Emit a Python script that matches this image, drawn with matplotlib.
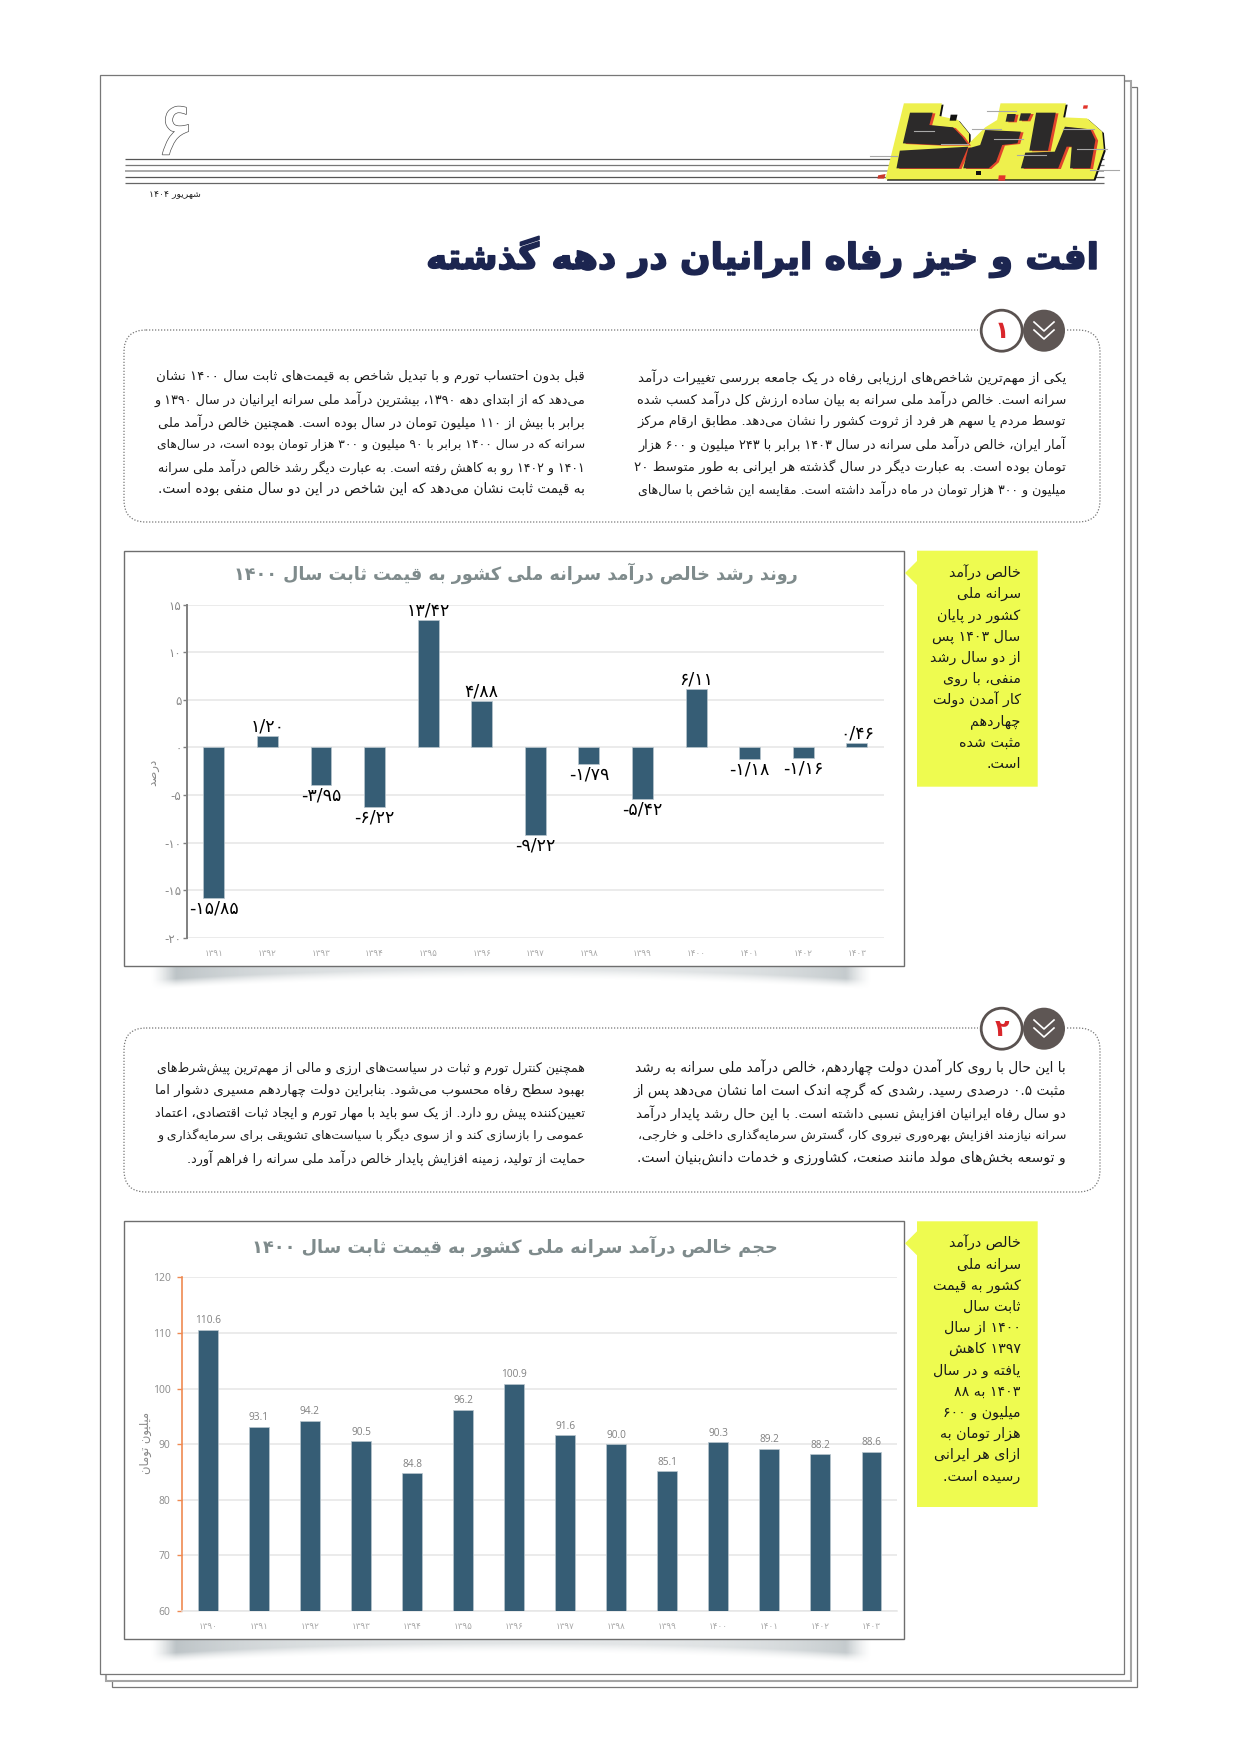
import re
import numpy as np
import matplotlib
matplotlib.use("Agg")
import matplotlib.pyplot as plt
from matplotlib.patches import Rectangle, Polygon, Circle, FancyBboxPatch
import matplotlib.patheffects as pe

W, H = 1250, 1750

years1 = ["1391", "1392", "1393", "1394", "1395", "1396", "1397", "1398", "1399", "1400", "1401", "1402", "1403"]
growth = [-15.85, 1.20, -3.95, -6.22, 13.42, 4.88, -9.22, -1.79, -5.42, 6.11, -1.18, -1.16, 0.46]
growth_ticks = [15, 10, 5, 0, -5, -10, -15, -20]

years2 = ["1390"] + years1
income = [110.6, 93.1, 94.2, 90.5, 84.8, 96.2, 100.9, 91.6, 90.0, 85.1, 90.3, 89.2, 88.2, 88.6]
income_ticks = [60, 70, 80, 90, 100, 110, 120]

headline = "افت و خیز رفاه ایرانیان در دهه گذشته"
date_text = "شهریور ۱۴۰۴"
title1 = "روند رشد خالص درآمد سرانه ملی کشور به قیمت ثابت سال ۱۴۰۰"
title2 = "حجم خالص درآمد سرانه ملی کشور به قیمت ثابت سال ۱۴۰۰"

box1_right = [
    "یکی از مهم‌ترین شاخص‌های ارزیابی رفاه در یک جامعه بررسی تغییرات درآمد",
    "سرانه است. خالص درآمد ملی سرانه به بیان ساده ارزش کل درآمد کسب شده",
    "توسط مردم یا سهم هر فرد از ثروت کشور را نشان می‌دهد. مطابق ارقام مرکز",
    "آمار ایران، خالص درآمد ملی سرانه در سال ۱۴۰۳ برابر با ۲۴۳ میلیون و ۶۰۰ هزار",
    "تومان بوده است. به عبارت دیگر در سال گذشته هر ایرانی به طور متوسط ۲۰",
    "میلیون و ۳۰۰ هزار تومان در ماه درآمد داشته است. مقایسه این شاخص با سال‌های",
]
box1_left = [
    "قبل بدون احتساب تورم و با تبدیل شاخص به قیمت‌های ثابت سال ۱۴۰۰ نشان",
    "می‌دهد که از ابتدای دهه ۱۳۹۰، بیشترین درآمد ملی سرانه ایرانیان در سال ۱۳۹۰ و",
    "برابر با بیش از ۱۱۰ میلیون تومان در سال بوده است. همچنین خالص درآمد ملی",
    "سرانه که در سال ۱۴۰۰ برابر با ۹۰ میلیون و ۳۰۰ هزار تومان بوده است، در سال‌های",
    "۱۴۰۱ و ۱۴۰۲ رو به کاهش رفته است. به عبارت دیگر رشد خالص درآمد ملی سرانه",
    "به قیمت ثابت نشان می‌دهد که این شاخص در این دو سال منفی بوده است.",
]
box2_right = [
    "با این حال با روی کار آمدن دولت چهاردهم، خالص درآمد ملی سرانه به رشد",
    "مثبت ۰.۵ درصدی رسید. رشدی که گرچه اندک است اما نشان می‌دهد پس از",
    "دو سال رفاه ایرانیان افزایش نسبی داشته است. با این حال رشد پایدار درآمد",
    "سرانه نیازمند افزایش بهره‌وری نیروی کار، گسترش سرمایه‌گذاری داخلی و خارجی،",
    "و توسعه بخش‌های مولد مانند صنعت، کشاورزی و خدمات دانش‌بنیان است.",
]
box2_left = [
    "همچنین کنترل تورم و ثبات در سیاست‌های ارزی و مالی از مهم‌ترین پیش‌شرط‌های",
    "بهبود سطح رفاه محسوب می‌شود. بنابراین دولت چهاردهم مسیری دشوار اما",
    "تعیین‌کننده پیش رو دارد. از یک سو باید با مهار تورم و ایجاد ثبات اقتصادی، اعتماد",
    "عمومی را بازسازی کند و از سوی دیگر با سیاست‌های تشویقی برای سرمایه‌گذاری و",
    "حمایت از تولید، زمینه افزایش پایدار خالص درآمد ملی سرانه را فراهم آورد.",
]
note1 = ["خالص درآمد", "سرانه ملی", "کشور در پایان", "سال ۱۴۰۳ پس", "از دو سال رشد",
         "منفی، با روی", "کار آمدن دولت", "چهاردهم", "مثبت شده", "است."]
note2 = ["خالص درآمد", "سرانه ملی", "کشور به قیمت", "ثابت سال", "۱۴۰۰ از سال", "۱۳۹۷ کاهش",
         "یافته و در سال", "۱۴۰۳ به ۸۸", "میلیون و ۶۰۰", "هزار تومان به", "ازای هر ایرانی", "رسیده است."]

# matplotlib has no arabic shaping, so map letters to presentation forms by hand
RIGHT = {"ا": 0xFE8D, "آ": 0xFE81, "د": 0xFEA9, "ذ": 0xFEAB, "ر": 0xFEAD, "ز": 0xFEAF, "و": 0xFEED, "ژ": 0xFB8A}
DUAL = {"ب": 0xFE8F, "ت": 0xFE95, "ث": 0xFE99, "ج": 0xFE9D, "ح": 0xFEA1, "خ": 0xFEA5, "س": 0xFEB1,
        "ش": 0xFEB5, "ص": 0xFEB9, "ض": 0xFEBD, "ط": 0xFEC1, "ظ": 0xFEC5, "ع": 0xFEC9, "غ": 0xFECD,
        "ف": 0xFED1, "ق": 0xFED5, "ل": 0xFEDD, "م": 0xFEE1, "ن": 0xFEE5, "ه": 0xFEE9, "ی": 0xFBFC,
        "ک": 0xFB8E, "گ": 0xFB92, "پ": 0xFB56, "چ": 0xFB7A}


def fa(s):
    out = []
    i = 0
    while i < len(s):
        c = s[i]
        before = i > 0 and s[i - 1] in DUAL
        after = i + 1 < len(s) and (s[i + 1] in DUAL or s[i + 1] in RIGHT)
        if c == "ل" and i + 1 < len(s) and s[i + 1] in "اآ":
            base = 0xFEFB if s[i + 1] == "ا" else 0xFEF5
            out.append(chr(base + (1 if before else 0)))
            i += 2
            continue
        if c in DUAL:
            offset = {(False, False): 0, (True, False): 1, (False, True): 2, (True, True): 3}[(before, after)]
            out.append(chr(DUAL[c] + offset))
        elif c in RIGHT:
            out.append(chr(RIGHT[c] + (1 if before else 0)))
        elif c != "\u200c":
            out.append(c)
        i += 1
    vis = "".join(out)[::-1]
    # numbers keep reading left to right
    return re.sub(r"[۰-۹]+(?:[./][۰-۹]+)*", lambda m: m.group(0)[::-1], vis)


def digits(s):
    return str(s).translate(str.maketrans("0123456789", "۰۱۲۳۴۵۶۷۸۹"))


fig = plt.figure(figsize=(W / 100, H / 100), dpi=100, facecolor="white")
page = fig.add_axes([0, 0, 1, 1])
page.set_xlim(0, W)
page.set_ylim(H, 0)
page.axis("off")
renderer = fig.canvas.get_renderer()


def fit(t, width):
    box = t.get_window_extent(renderer)
    t.set_fontsize(t.get_fontsize() * width / box.width)
    return t


def frame(x0, y0, x1, y1, color, lw, z):
    page.add_patch(Rectangle((x0, y0), x1 - x0, y1 - y0, fc="white", ec=color, lw=lw, zorder=z))


# stacked sheets
frame(112.3, 87.3, 1137.3, 1687.3, "#777777", 0.9, 1)
frame(106, 81, 1130.7, 1681, "#a5a5a5", 1.5, 2)
frame(99.7, 75, 1124.3, 1674.3, "#777777", 0.9, 3)

# header rules
for y, col, lw in [(158.7, "#555555", 0.9), (164.7, "#777777", 0.9), (171, "#aaaaaa", 1.4),
                   (177.3, "#555555", 0.9), (183.3, "#666666", 0.9)]:
    page.plot([125, 1104], [y, y], color=col, lw=lw, zorder=4, solid_capstyle="butt")


def logo(pts, **kw):
    xy = [(870 + u / 2.95, 90 + v / 3) for u, v in pts]
    page.add_patch(Polygon(xy, closed=True, **kw))


yellow = [(100, 40), (212, 40), (205, 78), (260, 90), (292, 130), (292, 160), (340, 112), (375, 90), (385, 40),
          (578, 40), (570, 82), (640, 85), (685, 125), (690, 180), (660, 268), (45, 268)]
logo([(u + 5, v + 4) for u, v in yellow], fc="#111111", ec="none", zorder=5)
logo(yellow, fc="#eef04d", ec="none", zorder=6)
blocks = [
    [(118, 68), (185, 68), (175, 105), (245, 112), (272, 140), (290, 165), (205, 165), (97, 160)],
    [(88, 182), (290, 170), (262, 235), (78, 235)],
    [(340, 120), (445, 125), (435, 160), (390, 165), (372, 215), (350, 235), (275, 235), (290, 175), (325, 165)],
    [(405, 72), (430, 72), (425, 95), (400, 95)],
    [(445, 70), (475, 70), (465, 92), (440, 92)],
    [(490, 68), (548, 68), (525, 182), (470, 182)],
    [(575, 110), (650, 118), (665, 150), (650, 235), (590, 235), (595, 170), (580, 170), (555, 235), (445, 235), (458, 188), (545, 185)],
]
for b in blocks:
    logo([(u + 8, v + 2) for u, v in b], fc="#e2452c", ec="none", zorder=7)
    logo(b, fc="#2c2a2a", ec="none", zorder=8)
logo([(238, 74), (258, 74), (254, 92), (235, 92)], fc="#111111", ec="none", zorder=8)
logo([(380, 256), (400, 256), (398, 272), (378, 272)], fc="#e2352c", ec="none", zorder=8)
logo([(630, 46), (643, 46), (641, 56), (628, 56)], fc="#e2352c", ec="none", zorder=8)
logo([(24, 256), (46, 252), (42, 266), (22, 266)], fc="#c8382c", ec="none", zorder=8)
logo([(314, 244), (326, 244), (326, 255), (314, 255)], fc="#111111", ec="none", zorder=8)
for u0, u1, v in [(345, 430, 63), (130, 190, 122), (210, 290, 162), (300, 385, 118), (365, 450, 148),
                  (435, 520, 195), (570, 660, 118), (610, 700, 177), (650, 735, 240), (0, 80, 198)]:
    page.plot([870 + u0 / 2.95, 870 + u1 / 2.95], [90 + v / 3, 90 + v / 3], color="#a8a8a8", lw=0.8, zorder=9)

page.text(175, 134, digits(6), fontsize=54, color="white", ha="center", va="center", zorder=6,
          path_effects=[pe.withStroke(linewidth=1.0, foreground="#555555")])
t = page.text(201, 195, fa(date_text), fontsize=7.5, color="#222222", ha="right", va="center", zorder=6)
fit(t, 52)

t = page.text(1099, 257, fa(headline), fontsize=36, fontweight="bold", color="#1c2550", ha="right", va="center", zorder=6,
              path_effects=[pe.withStroke(linewidth=1.2, foreground="#1c2550")])
fit(t, 673)


def textbox(y0, y1, right, left, first, num, last_right, last_left):
    page.add_patch(FancyBboxPatch((124 + 22, y0 + 22), 976 - 44, y1 - y0 - 44, boxstyle="round,pad=22,rounding_size=22",
                                  fc="white", ec="#777777", lw=0.9, ls=(0, (1, 1.4)), zorder=4))
    page.add_patch(Rectangle((978, y0 - 3), 89, 6, fc="white", ec="none", zorder=5))
    page.add_patch(Circle((1001.7, y0 + 0.7), 20.5, fc="white", ec="#5a5250", lw=2.0, zorder=6))
    page.add_patch(Circle((1044, y0 + 0.7), 21, fc="#5e5654", ec="none", zorder=6))
    for dy in (-4, 4):
        page.plot([1034, 1044, 1054], [y0 - 4 + dy, y0 + 5 + dy, y0 - 4 + dy], color="white", lw=1.2, zorder=7)
    page.text(1002, y0 + 0.7, digits(num), fontsize=17, fontweight="bold", color="#d9262b", ha="center", va="center", zorder=7)
    for col, x_right, width, last in ((right, 1066, 429, last_right), (left, 585, 429, last_left)):
        for k, line in enumerate(col):
            t = page.text(x_right, first + k * 22.5, fa(line), fontsize=10, color="#1c1c1c",
                          ha="right", va="center", zorder=6)
            fit(t, last if k == len(col) - 1 else width)


textbox(330, 522, box1_right, box1_left, 376.7, 1, 429, 425)
textbox(1028, 1192, box2_right, box2_left, 1068, 2, 429, 400)


def shadow(x0, x1, y0):
    xs = np.linspace(0, 1, 500)
    ys = np.linspace(0, 30, 80)
    X, Y = np.meshgrid(xs, ys)
    thick = 8 + 11 * (2 * X - 1) ** 2
    a = np.clip((thick + 5 - Y) / 10, 0, 1) ** 1.5
    a = a * np.clip(X / 0.035, 0, 1) ** 1.5 * np.clip((1 - X) / 0.035, 0, 1) ** 1.5
    a = a * (0.3 + 0.5 * (2 * X - 1) ** 4 + 0.1 * (1 - X))
    img = np.zeros(a.shape + (4,))
    img[..., :3] = matplotlib.colors.to_rgb("#a9b2b6")
    img[..., 3] = a
    page.imshow(img, extent=(x0, x1, y0 + 30, y0), aspect="auto", zorder=4)
    page.set_xlim(0, W)
    page.set_ylim(H, 0)


def note(x0, x1, y0, y1, tip_x, tip_y, lines, x_text):
    page.add_patch(Polygon([(x0, y0), (x1, y0), (x1, y1), (x0, y1), (x0, tip_y + 12), (tip_x, tip_y), (x0, tip_y - 12)],
                           closed=True, fc="#eefb50", ec="none", zorder=5))
    for k, line in enumerate(lines):
        page.text(x_text, tip_y + k * 21.2, fa(line), fontsize=10.3, color="#1a1a1a", ha="right", va="center", zorder=6)


BAR = "#365d75"
GRID = "#e6e6e6"

# chart 1
shadow(150, 872, 966)
frame(124.3, 550.7, 904.3, 965.7, "#6e6e6e", 1.0, 5)
note(917, 1037.7, 550.7, 786.7, 905, 573, note1, 1020.7)
t = page.text(798, 573, fa(title1), fontsize=15, fontweight="bold", color="#7f8b8c", ha="right", va="center", zorder=6)
fit(t, 566)

ax1 = fig.add_axes([187 / W, 1 - 937.7 / H, (883.7 - 187) / W, (937.7 - 604.7) / H])
ax1.patch.set_alpha(0)
ax1.bar(range(len(growth)), growth, width=0.39, color=BAR, edgecolor="#b9c6ce", linewidth=0.5, zorder=3)
ax1.set_xlim(-0.5, len(growth) - 0.5)
ax1.set_ylim(-20, 15)
ax1.set_yticks(growth_ticks)
ax1.set_yticklabels([digits(v) for v in growth_ticks], fontsize=8.5, color="#8a8a8a")
ax1.set_xticks(range(len(years1)))
ax1.set_xticklabels([digits(y) for y in years1], fontsize=6.3, color="#a8a8a8")
ax1.tick_params(axis="x", length=0, pad=8)
ax1.tick_params(axis="y", length=3, width=1, color="#808080", pad=1)
ax1.grid(axis="y", color=GRID, lw=1.1, zorder=1)
ax1.set_axisbelow(True)
for s in ("top", "right", "bottom"):
    ax1.spines[s].set_visible(False)
ax1.spines["left"].set_color("#808080")
ax1.spines["left"].set_linewidth(1.4)
ax1.set_ylabel(fa("درصد"), fontsize=8.5, color="#888888", va="center")
ax1.yaxis.set_label_coords(-0.049, 0.497)
for i, v in enumerate(growth):
    label = digits(("-" if v < 0 else "") + f"{abs(v):.2f}".replace(".", "/"))
    ax1.annotate(label, (i, v), xytext=(0, 7 if v > 0 else -7.5), textcoords="offset points",
                 ha="center", va="center", fontsize=12.5, color="black", zorder=4)

# chart 2
shadow(150, 872, 1640)
frame(124.3, 1221.3, 904.3, 1639.3, "#6e6e6e", 1.0, 5)
note(917, 1037.7, 1221.3, 1507, 905, 1243.3, note2, 1020.7)
t = page.text(778, 1246, fa(title2), fontsize=15, fontweight="bold", color="#7f8b8c", ha="right", va="center", zorder=6)
fit(t, 525)

ax2 = fig.add_axes([182.3 / W, 1 - 1611 / H, (897 - 182.3) / W, (1611 - 1277.3) / H])
ax2.patch.set_alpha(0)
ax2.bar(range(len(income)), income, width=0.39, color=BAR, edgecolor="#b9c6ce", linewidth=0.5, zorder=3)
ax2.set_xlim(-0.5, len(income) - 0.5)
ax2.set_ylim(60, 120)
ax2.set_yticks(income_ticks)
ax2.set_yticklabels([str(v) for v in income_ticks], fontsize=7.5, color="#8a8a8a", family="Open Sans")
ax2.set_xticks(range(len(years2)))
ax2.set_xticklabels([digits(y) for y in years2], fontsize=6.3, color="#a8a8a8")
ax2.tick_params(axis="x", length=0, pad=8)
ax2.tick_params(axis="y", length=3.5, width=1, color="#ef8a52", pad=5)
ax2.grid(axis="y", color=GRID, lw=1.1, zorder=1)
ax2.set_axisbelow(True)
for s in ("top", "right"):
    ax2.spines[s].set_visible(False)
ax2.spines["bottom"].set_color(GRID)
ax2.spines["bottom"].set_linewidth(1.1)
ax2.spines["left"].set_color("#ef8a52")
ax2.spines["left"].set_linewidth(1.2)
ax2.set_ylabel(fa("میلیون تومان"), fontsize=8.3, color="#888888", va="center")
ax2.yaxis.set_label_coords(-0.052, 0.503)
for i, v in enumerate(income):
    ax2.annotate(f"{v:.1f}", (i, v), xytext=(0, 6.5), textcoords="offset points", ha="center", va="center",
                 fontsize=7.3, color="#808080", family="Open Sans", zorder=4)

fig.savefig("out.png", dpi=100)
